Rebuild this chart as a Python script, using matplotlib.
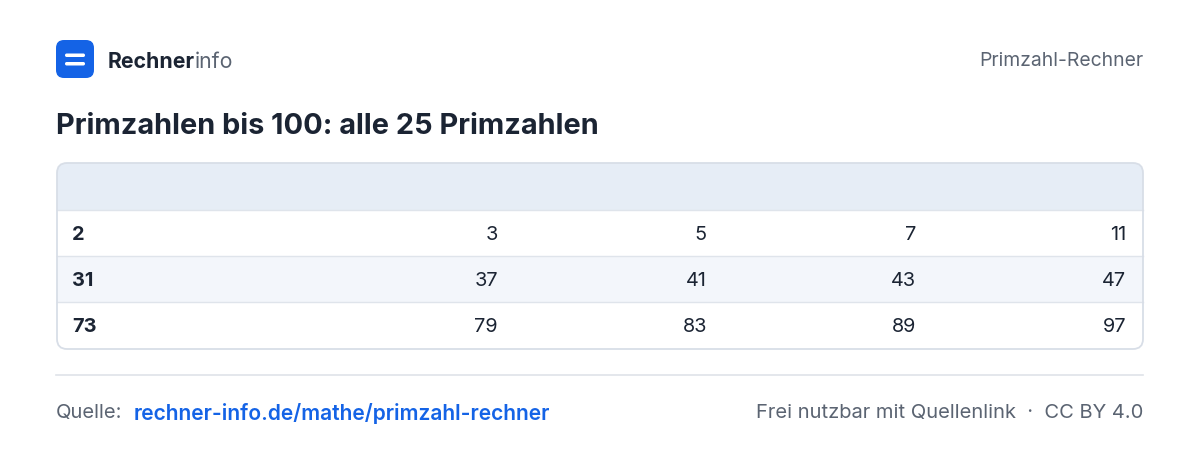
import matplotlib.pyplot as plt
from matplotlib.patches import FancyBboxPatch, Rectangle

plt.rcParams['font.family'] = ['Inter', 'DejaVu Sans']

# data
first_col = ["2", "31", "73"]
other_cols = [["3", "5", "7", "11"],
              ["37", "41", "43", "47"],
              ["79", "83", "89", "97"]]
col_right = [498, 707, 916, 1126]
title = "Primzahlen bis 100: alle 25 Primzahlen"

DARK = "#1b2433"
GRAY = "#5b6472"
BLUE = "#1463e6"
BORDER = "#d8dee7"

fig = plt.figure(figsize=(12, 4.54), dpi=100)
ax = fig.add_axes([0, 0, 1, 1])
ax.set_xlim(0, 1200)
ax.set_ylim(454, 0)
ax.axis("off")

# logo
ax.add_patch(FancyBboxPatch((56, 40), 38, 38, boxstyle="round,pad=0,rounding_size=8",
                            fc=BLUE, ec="none"))
for yy in (53.5, 62):
    ax.add_patch(FancyBboxPatch((65, yy), 20, 3.5, boxstyle="round,pad=0,rounding_size=1.7",
                                fc="white", ec="none"))
t = ax.text(108, 61.5, "Rechner", fontsize=15.3, fontweight="bold", color=DARK, va="center")
fig.canvas.draw()
bb = t.get_window_extent()
ax.text(108 + bb.width, 61.5, "info", fontsize=15.3, color=GRAY, va="center")
ax.text(1143, 61.5, "Primzahl-Rechner", fontsize=13.9, color=GRAY, va="center", ha="right")

ax.text(56, 127, title, fontsize=20.8, fontweight="bold", color=DARK, va="center")

# table
x0, x1, top, bot = 57, 1143, 163, 349
rows_y = [210, 256, 302, 349]
ax.add_patch(FancyBboxPatch((x0, top), x1 - x0, bot - top,
                            boxstyle="round,pad=0,rounding_size=10",
                            fc="white", ec="none", zorder=1))
clip = FancyBboxPatch((x0, top), x1 - x0, bot - top,
                      boxstyle="round,pad=0,rounding_size=10", fc="none", ec="none")
ax.add_patch(clip)
bands = [(top, rows_y[0], "#e6edf6"), (rows_y[1], rows_y[2], "#f3f6fb")]
for a, b, c in bands:
    r = Rectangle((x0, a), x1 - x0, b - a, fc=c, ec="none", zorder=2)
    ax.add_patch(r)
    r.set_clip_path(clip)
for yy in rows_y[:-1]:
    ax.plot([x0, x1], [yy, yy], color="#dfe4eb", lw=1, zorder=3)
ax.add_patch(FancyBboxPatch((x0, top), x1 - x0, bot - top,
                            boxstyle="round,pad=0,rounding_size=10",
                            fc="none", ec=BORDER, lw=1.3, zorder=4))

for i, (f, rest) in enumerate(zip(first_col, other_cols)):
    yc = (rows_y[i] + rows_y[i + 1]) / 2 + 2
    ax.text(72, yc, f, fontsize=14.3, fontweight="bold", color=DARK, va="center", zorder=5)
    for xr, v in zip(col_right, rest):
        ax.text(xr, yc, v, fontsize=14.3, color=DARK, va="center", ha="right", zorder=5)

# footer
ax.plot([56, 1143], [375, 375], color="#dfe3e9", lw=1.2)
ax.text(56, 413, "Quelle:", fontsize=14.5, color=GRAY, va="center")
ax.text(134, 413, "rechner-info.de/mathe/primzahl-rechner", fontsize=15.1,
        fontweight="semibold", color=BLUE, va="center")
ax.text(1143, 413, "Frei nutzbar mit Quellenlink  ·  CC BY 4.0", fontsize=14.5,
        color=GRAY, va="center", ha="right")

fig.savefig("out.png", dpi=100, facecolor="white")
